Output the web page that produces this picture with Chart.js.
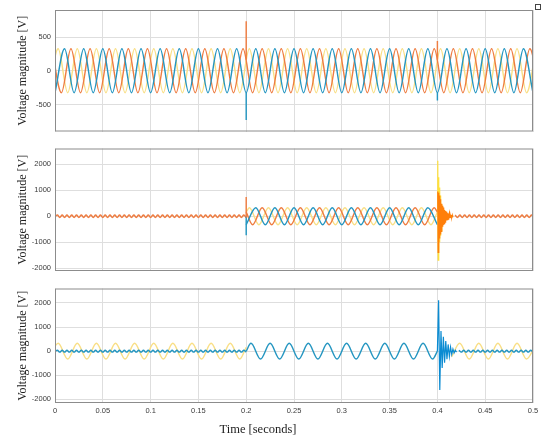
<!DOCTYPE html>
<html lang="en">
<head>
<meta charset="UTF-8">
<title>Voltage magnitude - three panels</title>
<script src="https://cdn.jsdelivr.net/npm/chart.js"></script>
<style>
    body { margin: 0; background: #fff; }
    .panel { position: absolute; left: 0; width: 550px; }
    #p1 { top: 0; height: 140px; }
    #p2 { top: 140px; height: 140px; }
    #p3 { top: 280px; height: 162px; }
</style>
</head>
<body>
<div class="panel" id="p1"><canvas id="c1"></canvas></div>
<div class="panel" id="p2"><canvas id="c2"></canvas></div>
<div class="panel" id="p3"><canvas id="c3"></canvas></div>

<script>
// axes
const xTicks = [0, 0.05, 0.1, 0.15, 0.2, 0.25, 0.3, 0.35, 0.4, 0.45, 0.5];
const xLabels = ['0', '0.05', '0.1', '0.15', '0.2', '0.25', '0.3', '0.35', '0.4', '0.45', '0.5'];
const topTicks = [-500, 0, 500];
const topLabels = ['-500', '0', '500'];
const lowTicks = [-2000, -1000, 0, 1000, 2000];
const lowLabels = ['-2000', '-1000', '0', '1000', '2000'];

// sample steps: sine extremes every half cycle (50 Hz), ripple, transients
const HALF = 0.01;
const RIP = 0.0025;
const TR = 0.0004;
const RING = 0.00125;
const FAULT_ON = 0.2;
const FAULT_OFF = 0.4;

// ---- top panel: sine extremes (V) ----
const topOrangeT0 = -0.0033;
const topOrange = [
    325, -325, 325, -325, 325, -325, 325, -325, 325, -325,
    325, -325, 325, -325, 325, -325, 325, -325, 325, -325,
    325, -325, 325, -325, 325, -325, 325, -325, 325, -325,
    325, -325, 325, -325, 325, -325, 325, -325, 325, -325,
    325, -325, 325, -325, 325, -325, 325, -325, 325, -325,
    325, -325
];
const topBlueT0 = 0;
const topBlue = [
    -325, 325, -325, 325, -325, 325, -325, 325, -325, 325,
    -325, 325, -325, 325, -325, 325, -325, 325, -325, 325,
    -325, 325, -325, 325, -325, 325, -325, 325, -325, 325,
    -325, 325, -325, 325, -325, 325, -325, 325, -325, 325,
    -325, 325, -325, 325, -325, 325, -325, 325, -325, 325,
    -325
];
const topYellowT0 = -0.0067;
const topYellow = [
    -325, 325, -325, 325, -325, 325, -325, 325, -325, 325,
    -325, 325, -325, 325, -325, 325, -325, 325, -325, 325,
    -325, 325, -325, 325, -325, 325, -325, 325, -325, 325,
    -325, 325, -325, 325, -325, 325, -325, 325, -325, 325,
    -325, 325, -325, 325, -325, 325, -325, 325, -325, 325,
    -325, 325
];
// switching spikes
const topSpikeT = [0, 0.2, 0.4];
const topOrangeSpikeFrom = [162, 162, 162];
const topOrangeSpikePeak = [430, 735, 440];
const topBlueSpikeFrom = [-325, -325, -325];
const topBlueSpikePeak = [-450, -730, -440];

// ---- middle panel ----
const midRippleOrange = [
    0,
    45, -45, 45, -45, 45, -45, 45, -45, 45, -45,
    45, -45, 45, -45, 45, -45, 45, -45, 45, -45,
    45, -45, 45, -45, 45, -45, 45, -45, 45, -45,
    45, -45, 45, -45, 45, -45, 45, -45, 45, -45,
    45, -45, 45, -45, 45, -45, 45, -45, 45, -45,
    45, -45, 45, -45, 45, -45, 45, -45, 45, -45,
    45, -45, 45, -45, 45, -45, 45, -45, 45, -45,
    45, -45, 45, -45, 45, -45, 45, -45, 45, -45
];
const midOrangeEdge = [162, 162];
const midOrangeT0 = 0.2067;
const midOrange = [
    -325, 325, -325, 325, -325, 325, -325, 325, -325, 325,
    -325, 325, -325, 325, -325, 325, -325, 325, -325, 325
];
const midBlueT0 = 0.2;
const midBlue = [
    -325, 325, -325, 325, -325, 325, -325, 325, -325, 325,
    -325, 325, -325, 325, -325, 325, -325, 325, -325, 325,
    -325
];
const midYellowEdge = [162, 162];
const midYellowT0 = 0.2033;
const midYellow = [
    325, -325, 325, -325, 325, -325, 325, -325, 325, -325,
    325, -325, 325, -325, 325, -325, 325, -325, 325, -325
];
const midSpikeT = [0.2];
const midOrangeSpike = [-45, 740, 162];
const midBlueSpike = [0, -730, -325];
// fault clearing transient from t = 0.4 s
const midOrangeTr = [
    162, 950, -1385, 900, -1100, 800, -850, 650, -700, 550,
    -580, 480, -480, 400, -400, 340, -330, 290, -280, 240,
    -230, 200, -190, 170, -160, 140, -130, 120, -110, 100,
    -90, 80, -75, 65, -60, 55, -50, 45, -45, 40,
    -40
];
const midYellowTr = [
    162, 2127, -1680, 1500, -1400, 1100, -1000, 800, -750, 600,
    -550, 450, -420, 350, -320, 260, -240, 200, -180, 150,
    -130, 100, -90, 70, -60, 40, -30, 0
];
const midTailT0 = 0.4185;
const midTailOrange = [
    45, -45, 45, -45, 45, -45, 45, -45, 45, -45,
    45, -45, 45, -45, 45, -45, 45, -45, 45, -45,
    45, -45, 45, -45, 45, -45, 45, -45, 45, -45,
    45, -45, 45, -45
];

// ---- bottom panel ----
const lowYellowT0 = -0.0067;
const lowYellow = [
    -325, 325, -325, 325, -325, 325, -325, 325, -325, 325,
    -325, 325, -325, 325, -325, 325, -325, 325, -325, 325,
    -325
];
const lowYellowEnd = 162;
const lowRippleBlue = [
    0,
    40, -40, 40, -40, 40, -40, 40, -40, 40, -40,
    40, -40, 40, -40, 40, -40, 40, -40, 40, -40,
    40, -40, 40, -40, 40, -40, 40, -40, 40, -40,
    40, -40, 40, -40, 40, -40, 40, -40, 40, -40,
    40, -40, 40, -40, 40, -40, 40, -40, 40, -40,
    40, -40, 40, -40, 40, -40, 40, -40, 40, -40,
    40, -40, 40, -40, 40, -40, 40, -40, 40, -40,
    40, -40, 40, -40, 40, -40, 40, -40, 40, -40
];
const lowBlueEdge = [0, 0];
const lowBlueT0 = 0.205;
const lowBlue = [
    325, -325, 325, -325, 325, -325, 325, -325, 325, -325,
    325, -325, 325, -325, 325, -325, 325, -325, 325, -325
];
const lowBlueTr = [
    0, 2114, -1610, 840, -700, 600, -480, 420, -330, 280,
    -220, 170, -130, 90, -70, 40, -40
];
const lowTailT0 = 0.4225;
const lowTailBlue = [
    40, -40, 40, -40, 40, -40, 40, -40, 40, -40,
    40, -40, 40, -40, 40, -40, 40, -40, 40, -40,
    40, -40, 40, -40, 40, -40, 40, -40, 40, -40,
    40, -40
];
const lowYellowTailStart = [0.415, -230];
const lowYellowTailT0 = 0.4233;
const lowYellowTail = [325, -325, 325, -325, 325, -325, 325, -325, 325];

// colours
const ORANGE = '#ee7d42';
const BLUE = '#2596c1';
const YELLOW = '#f9df86';
const ORANGE_TR = '#ff7f0a';
const YELLOW_TR = '#ffe03a';
const BLUE_TR = '#0a8bd2';

function run(t0, dt, vals) {
    return vals.map((v, i) => ({ x: t0 + i * dt, y: v }));
}
function point(t, v) {
    return [{ x: t, y: v }];
}
// vertical strokes: each spike goes from -> peak -> back
function spikes(times, from, peak) {
    const pts = [];
    times.forEach((t, i) => {
        pts.push({ x: t, y: from[i] }, { x: t, y: peak[i] }, { x: t, y: from[i] }, { x: t, y: null });
    });
    return pts;
}
function trace(data, color, smooth, width) {
    return {
        data: data,
        borderColor: color,
        borderWidth: width || 1.45,
        pointRadius: 0,
        fill: false,
        tension: 0,
        cubicInterpolationMode: smooth ? 'monotone' : 'default'
    };
}

const frame = {
    id: 'frame',
    afterDatasetsDraw(chart) {
        const { ctx, chartArea: a } = chart;
        ctx.save();
        ctx.strokeStyle = '#8c8c8c';
        ctx.lineWidth = 1;
        ctx.strokeRect(a.left + 0.5, a.top + 0.5, a.right - a.left - 1, a.bottom - a.top - 1);
        ctx.restore();
    }
};

function options(ticks, labels, yMin, yMax, pad, showX) {
    return {
        responsive: true,
        maintainAspectRatio: false,
        animation: false,
        events: [],
        layout: { padding: pad },
        plugins: { legend: { display: false }, tooltip: { enabled: false } },
        scales: {
            x: {
                type: 'linear',
                min: 0,
                max: 0.5,
                afterBuildTicks: s => { s.ticks = xTicks.map(v => ({ value: v })); },
                grid: { color: '#dedede', drawTicks: false },
                border: { display: false },
                ticks: {
                    display: showX,
                    padding: 3,
                    color: '#3a3a3a',
                    font: { family: 'Liberation Sans', size: 7.5 },
                    maxRotation: 0,
                    callback: (v, i) => xLabels[i]
                },
                afterFit: s => { s.height = showX ? 39 : 0; }
            },
            y: {
                min: yMin,
                max: yMax,
                afterBuildTicks: s => { s.ticks = ticks.map(v => ({ value: v })); },
                grid: { color: '#dedede', drawTicks: false },
                border: { display: false },
                ticks: {
                    padding: 4,
                    color: '#3a3a3a',
                    font: { family: 'Liberation Sans', size: 7.5 },
                    callback: (v, i) => labels[i]
                },
                title: {
                    display: true,
                    text: 'Voltage magnitude [V]',
                    color: '#1e1e1e',
                    font: { family: 'Liberation Serif', size: 12 },
                    padding: { top: 16, bottom: 0 }
                },
                afterFit: s => { s.width = 55; }
            }
        }
    };
}

// top panel
new Chart(document.getElementById('c1'), {
    type: 'line',
    data: {
        datasets: [
            trace(spikes(topSpikeT, topOrangeSpikeFrom, topOrangeSpikePeak), ORANGE, false),
            trace(spikes(topSpikeT, topBlueSpikeFrom, topBlueSpikePeak), BLUE, false),
            trace(run(topBlueT0, HALF, topBlue), BLUE, true),
            trace(run(topOrangeT0, HALF, topOrange), ORANGE, true),
            trace(run(topYellowT0, HALF, topYellow), YELLOW, true)
        ]
    },
    options: options(topTicks, topLabels, -900, 900, { top: 10, right: 17, bottom: 7, left: 0 }, false),
    plugins: [frame, {
        id: 'icon',
        afterDraw(chart) {
            const ctx = chart.ctx;
            ctx.save();
            ctx.strokeStyle = '#444';
            ctx.lineWidth = 1;
            ctx.strokeRect(535.5, 4.5, 5, 5);
            ctx.restore();
        }
    }]
});

// middle panel
new Chart(document.getElementById('c2'), {
    type: 'line',
    data: {
        datasets: [
            trace(spikes(midSpikeT, [midOrangeSpike[0]], [midOrangeSpike[1]]).concat(point(FAULT_ON, midOrangeSpike[2])), ORANGE, false),
            trace(spikes(midSpikeT, [midBlueSpike[0]], [midBlueSpike[1]]).concat(point(FAULT_ON, midBlueSpike[2])), BLUE, false),
            trace(run(FAULT_OFF, TR, midOrangeTr), ORANGE_TR, false, 1.2),
            trace(run(FAULT_OFF, TR, midYellowTr), YELLOW_TR, false, 1.2),
            trace(run(0, RIP, midRippleOrange), ORANGE, true),
            trace(run(midTailT0, RIP, midTailOrange), ORANGE, true),
            trace(run(midBlueT0, HALF, midBlue), BLUE, true),
            trace(point(FAULT_ON, midOrangeEdge[0]).concat(run(midOrangeT0, HALF, midOrange), point(FAULT_OFF, midOrangeEdge[1])), ORANGE, true),
            trace(point(FAULT_ON, midYellowEdge[0]).concat(run(midYellowT0, HALF, midYellow), point(FAULT_OFF, midYellowEdge[1])), YELLOW, true)
        ]
    },
    options: options(lowTicks, lowLabels, -2100, 2600, { top: 8, right: 17, bottom: 9, left: 0 }, false),
    plugins: [frame]
});

// bottom panel
new Chart(document.getElementById('c3'), {
    type: 'line',
    data: {
        datasets: [
            trace(run(FAULT_OFF, RING, lowBlueTr), BLUE_TR, false, 1.2),
            trace(run(0, RIP, lowRippleBlue), BLUE, true),
            trace(run(lowTailT0, RIP, lowTailBlue), BLUE, true),
            trace(point(FAULT_ON, lowBlueEdge[0]).concat(run(lowBlueT0, HALF, lowBlue), point(FAULT_OFF, lowBlueEdge[1])), BLUE, true),
            trace(run(lowYellowT0, HALF, lowYellow).concat(point(FAULT_ON, lowYellowEnd)), YELLOW, true),
            trace(point(lowYellowTailStart[0], lowYellowTailStart[1]).concat(run(lowYellowTailT0, HALF, lowYellowTail)), YELLOW, true)
        ]
    },
    options: options(lowTicks, lowLabels, -2150, 2600, { top: 7, right: 17, bottom: 0, left: 0 }, true),
    plugins: [frame, {
        id: 'xTitle',
        afterDraw(chart) {
            const ctx = chart.ctx;
            ctx.save();
            ctx.font = '12.5px "Liberation Serif"';
            ctx.fillStyle = '#1e1e1e';
            ctx.textAlign = 'center';
            ctx.textBaseline = 'middle';
            ctx.fillText('Time [seconds]', 258, 150);
            ctx.restore();
        }
    }]
});
</script>
</body>
</html>
